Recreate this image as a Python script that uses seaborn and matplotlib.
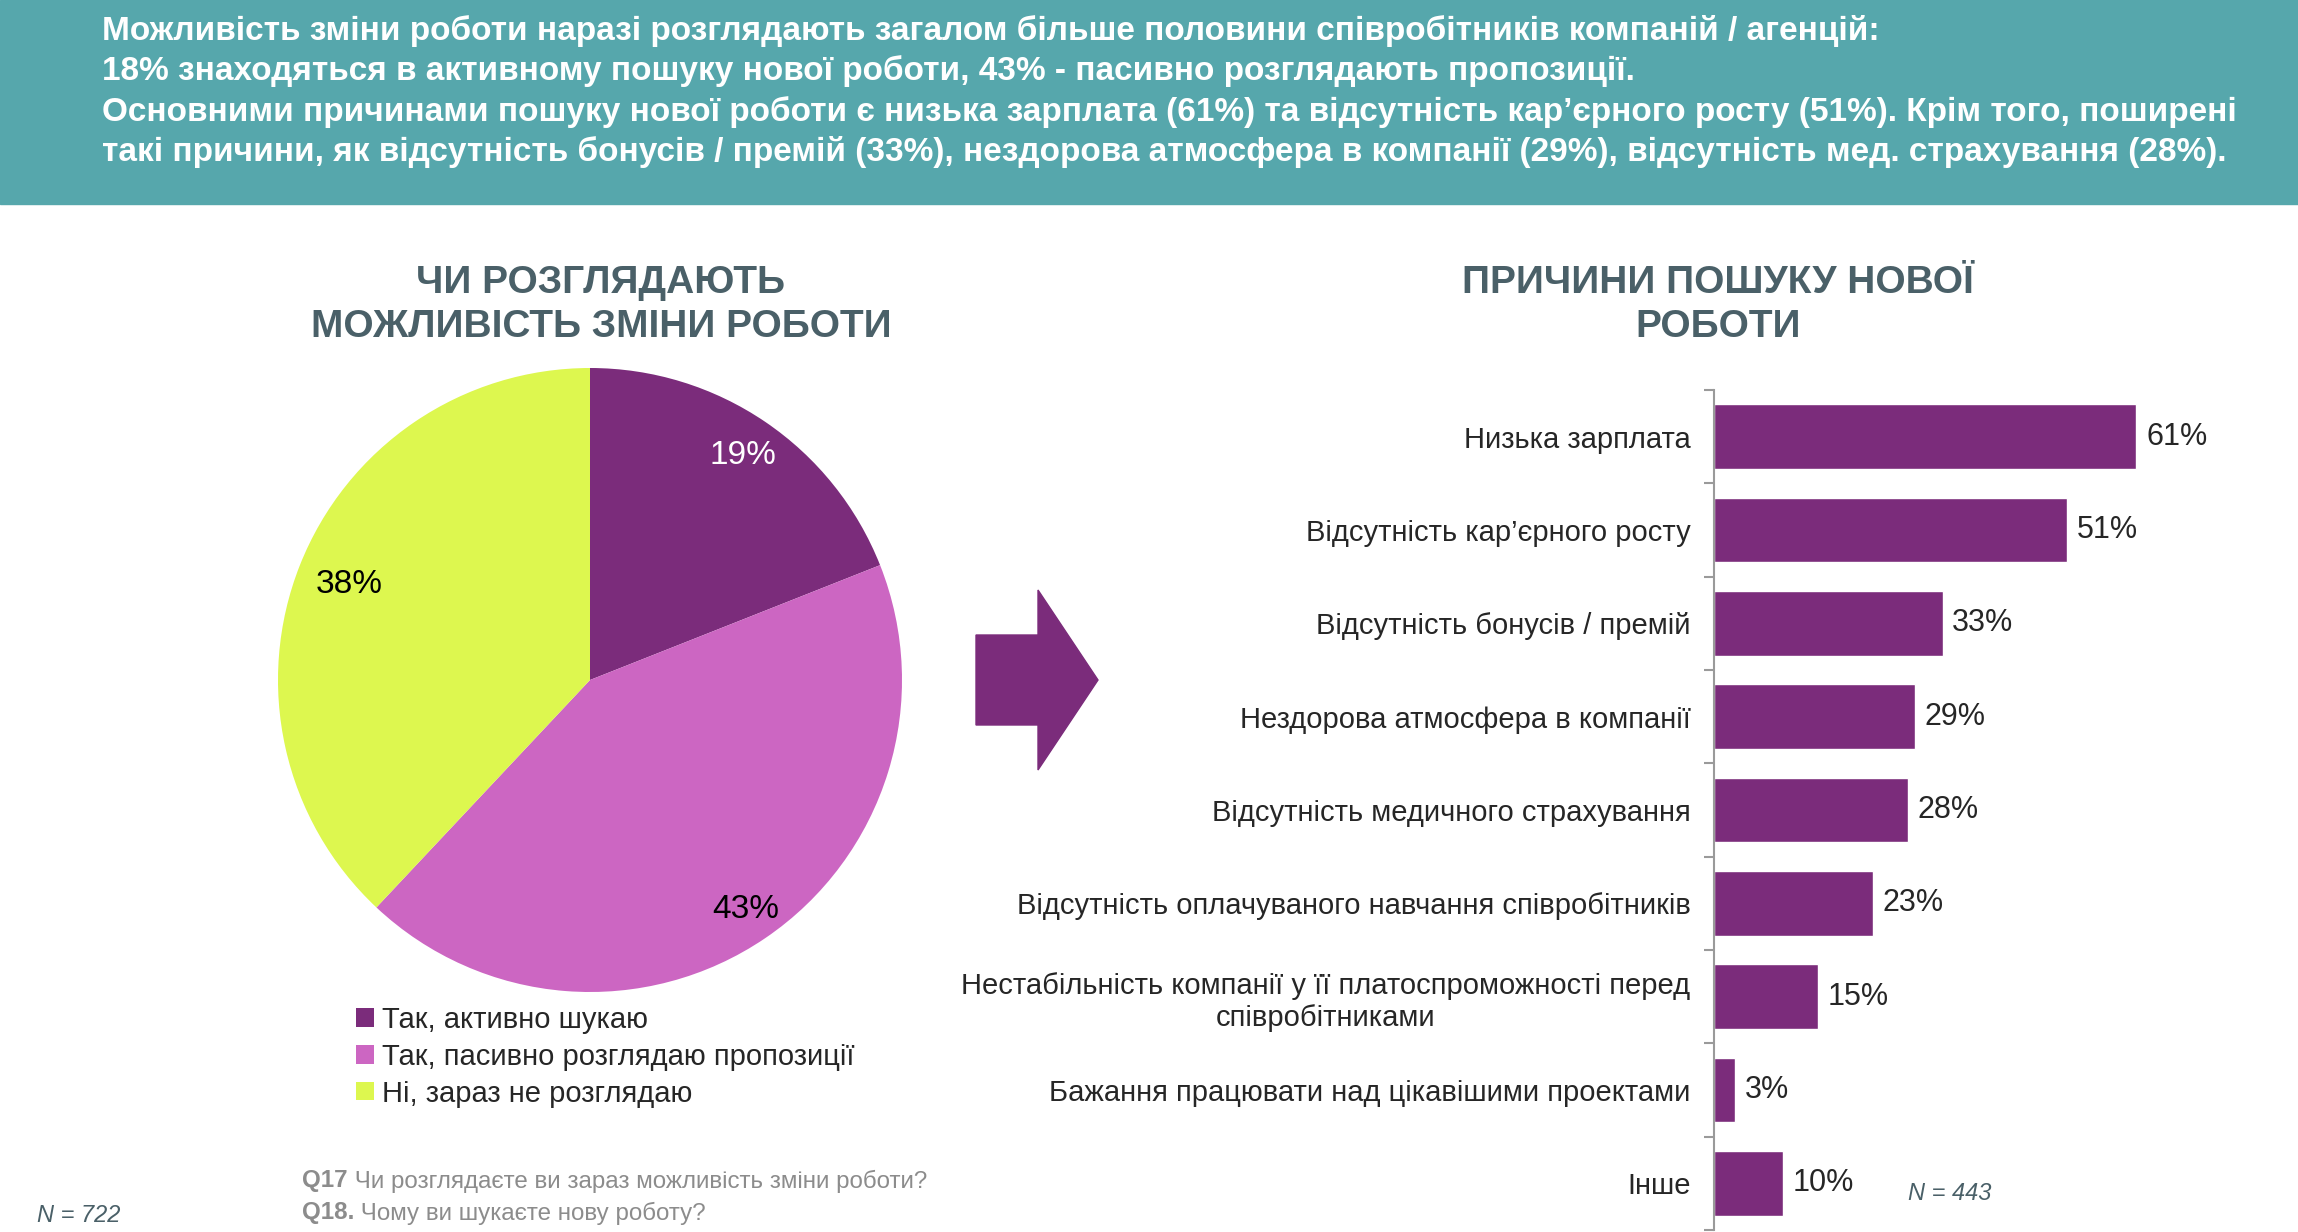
import numpy as np
import pandas as pd
import matplotlib
matplotlib.use("Agg")
import matplotlib.pyplot as plt
from matplotlib.patches import Rectangle, Polygon
import seaborn as sns

# дані
pie_labels = ["Так, активно шукаю", "Так, пасивно розглядаю пропозиції", "Ні, зараз не розглядаю"]
pie_values = [19, 43, 38]
pie_colors = ["#7B2C7B", "#CC66C2", "#DDF74F"]

reasons = [
    "Низька зарплата",
    "Відсутність кар’єрного росту",
    "Відсутність бонусів / премій",
    "Нездорова атмосфера в компанії",
    "Відсутність медичного страхування",
    "Відсутність оплачуваного навчання співробітників",
    "Нестабільність компанії у її платоспроможності перед\nспівробітниками",
    "Бажання працювати над цікавішими проектами",
    "Інше",
]
reason_values = [61, 51, 33, 29, 28, 23, 15, 3, 10]

header_lines = [
    "Можливість зміни роботи наразі розглядають загалом більше половини співробітників компаній / агенцій:",
    "18% знаходяться в активному пошуку нової роботи, 43% - пасивно розглядають пропозиції.",
    "Основними причинами пошуку нової роботи є низька зарплата (61%) та відсутність кар’єрного росту (51%). Крім того, поширені",
    "такі причини, як відсутність бонусів / премій (33%), нездорова атмосфера в компанії (29%), відсутність мед. страхування (28%).",
]

TEAL = "#56A7AC"
SLATE = "#4A6068"
GREY = "#8C8C8C"
W, H = 2298, 1232

sns.set_theme(style="white")
plt.rcParams["font.family"] = ["Liberation Sans", "DejaVu Sans"]

fig = plt.figure(figsize=(W / 100, H / 100), dpi=100)

# фонова вісь у пікселях
bg = fig.add_axes([0, 0, 1, 1])
bg.set_xlim(0, W)
bg.set_ylim(H, 0)
bg.axis("off")

bg.add_patch(Rectangle((0, 0), W, 204, color=TEAL, zorder=0))
for i, line in enumerate(header_lines):
    bg.text(102, 31 + i * 40.5, line, color="white", fontsize=24, fontweight="bold",
            va="center", ha="left")

# заголовки
bg.text(601, 305, "ЧИ РОЗГЛЯДАЮТЬ\nМОЖЛИВІСТЬ ЗМІНИ РОБОТИ", color=SLATE, fontsize=28,
        fontweight="bold", ha="center", va="center", linespacing=1.28)
bg.text(1718, 305, "ПРИЧИНИ ПОШУКУ НОВОЇ\nРОБОТИ", color=SLATE, fontsize=28,
        fontweight="bold", ha="center", va="center", linespacing=1.28)

# стрілка
bg.add_patch(Polygon([(976, 635), (1038, 635), (1038, 590), (1098, 680), (1038, 770),
                      (1038, 725), (976, 725)], closed=True, color="#7B2C7B"))

# кругова діаграма
r = 312
cx, cy = 590, 680
pie_ax = fig.add_axes([(cx - r) / W, (H - cy - r) / H, 2 * r / W, 2 * r / H])
pie_ax.patch.set_alpha(0)
wedges, texts, autotexts = pie_ax.pie(
    pie_values, colors=pie_colors, startangle=90, counterclock=False,
    autopct=lambda p: f"{p:.0f}%", pctdistance=0.85,
    textprops=dict(fontsize=24, color="black"),
    wedgeprops=dict(linewidth=0))
autotexts[0].set_color("white")
# трохи різна відстань підписів від центру, як в оригіналі
for t, d in zip(autotexts, [0.87, 0.89, 0.83]):
    x, y = t.get_position()
    t.set_position((x / 0.85 * d, y / 0.85 * d))
pie_ax.set_xlim(-1, 1)
pie_ax.set_ylim(-1, 1)

leg = bg.legend(wedges, pie_labels, loc="upper left", bbox_to_anchor=(356, 1006),
                bbox_transform=bg.transData, frameon=False, fontsize=21,
                handlelength=0.6, handleheight=0.6, handletextpad=0.3,
                labelspacing=0.3, borderpad=0, borderaxespad=0)

# стовпчикова діаграма
df = pd.DataFrame({"reason": reasons, "value": reason_values})
bar_ax = fig.add_axes([1714 / W, (H - 1230) / H, 554 / W, 840 / H])
bar_ax.patch.set_alpha(0)
sns.barplot(data=df, y="reason", x="value", color="#7B2C7B", saturation=1,
            width=0.69, ax=bar_ax, orient="h")
bar_ax.set_xlim(0, 80)
bar_ax.set_ylim(len(reasons) - 0.5, -0.5)
bar_ax.set_xlabel("")
bar_ax.set_ylabel("")
bar_ax.set_xticks([])
sns.despine(ax=bar_ax, top=True, right=True, bottom=True)
bar_ax.spines["left"].set_color("#9A9A9A")
bar_ax.spines["left"].set_linewidth(1.5)
bar_ax.tick_params(axis="y", which="major", length=0, pad=17, labelsize=21)
bar_ax.set_yticks(np.arange(-0.5, len(reasons), 1), minor=True)
bar_ax.tick_params(axis="y", which="minor", left=True, length=7, width=1.5, color="#9A9A9A")
for lbl in bar_ax.get_yticklabels():
    lbl.set_multialignment("center")
bar_ax.bar_label(bar_ax.containers[0], labels=[f"{v}%" for v in reason_values],
                 padding=7, fontsize=22)

# підписи внизу
bg.text(37, 1215, "N = 722", color=SLATE, fontsize=17, fontstyle="italic", va="center")
bg.text(1908, 1193, "N = 443", color=SLATE, fontsize=17, fontstyle="italic", va="center")
q17 = bg.text(302, 1181, "Q17", color=GREY, fontsize=17.4, fontweight="bold", va="center")
bg.annotate(" Чи розглядаєте ви зараз можливість зміни роботи?", xy=(1, 0.5),
            xycoords=q17, va="center", ha="left", color=GREY, fontsize=17.4)
q18 = bg.text(302, 1213, "Q18.", color=GREY, fontsize=17.4, fontweight="bold", va="center")
bg.annotate(" Чому ви шукаєте нову роботу?", xy=(1, 0.5),
            xycoords=q18, va="center", ha="left", color=GREY, fontsize=17.4)

fig.savefig("out.png", dpi=100)
